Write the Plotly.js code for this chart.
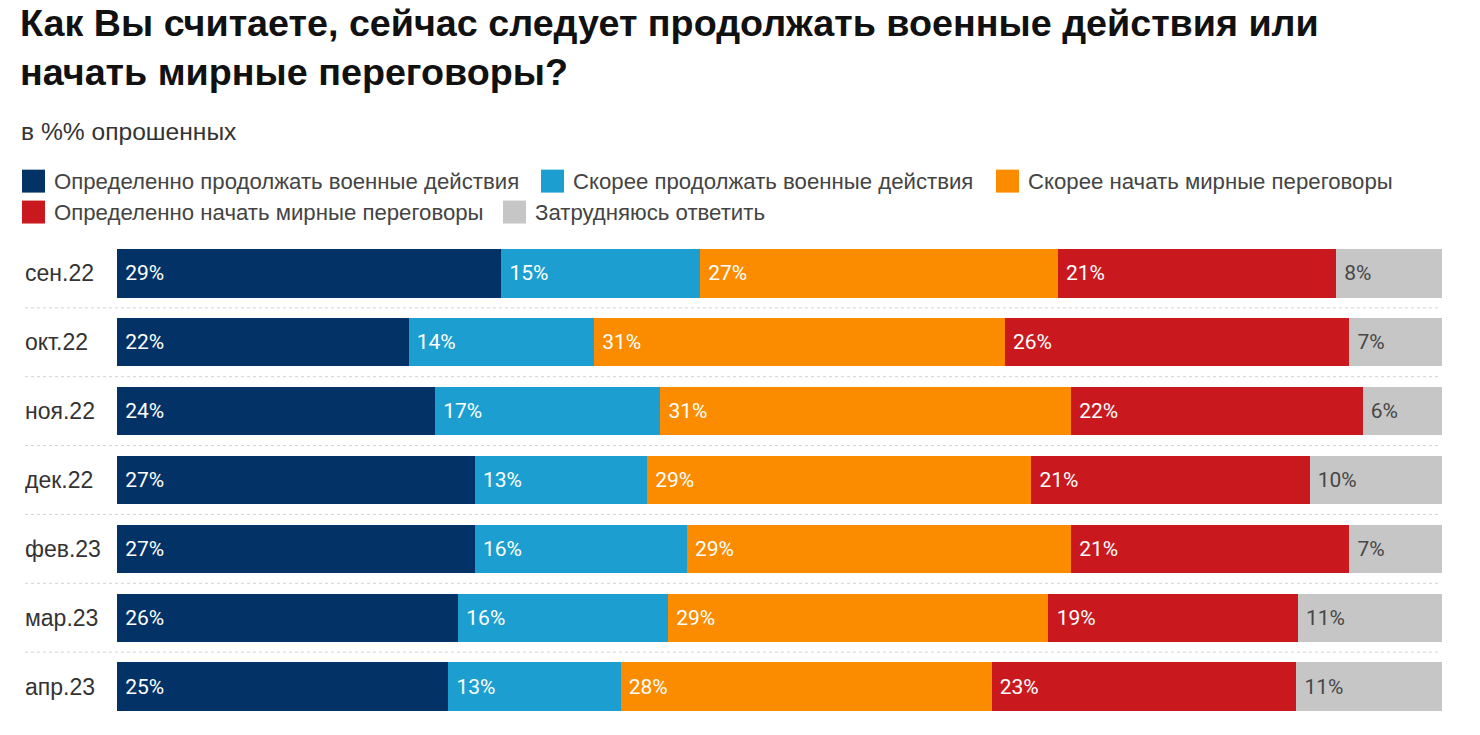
<!DOCTYPE html>
<html>
<head>
<meta charset="utf-8">
<script src="https://cdn.plot.ly/plotly-3.0.1.min.js"></script>
<style>
  body { margin: 0; background: #fff; }
  #chart { width: 1480px; height: 735px; }
</style>
</head>
<body>
<div id="chart"></div>
<script>
// опрос: продолжать военные действия или переговоры, в %% опрошенных
var months = ['сен.22', 'окт.22', 'ноя.22', 'дек.22', 'фев.23', 'мар.23', 'апр.23'];
var seriesNames = [
  'Определенно продолжать военные действия',
  'Скорее продолжать военные действия',
  'Скорее начать мирные переговоры',
  'Определенно начать мирные переговоры',
  'Затрудняюсь ответить'
];
var defContinue = [29, 22, 24, 27, 27, 26, 25];
var ratherContinue = [15, 14, 17, 13, 16, 16, 13];
var ratherTalks = [27, 31, 31, 29, 29, 29, 28];
var defTalks = [21, 26, 22, 21, 21, 19, 23];
var hardToSay = [8, 7, 6, 10, 7, 11, 11];

var seriesValues = [defContinue, ratherContinue, ratherTalks, defTalks, hardToSay];
var colors = ['#033366', '#1c9fd0', '#fb8c00', '#c9191f', '#c6c6c6'];
var textColors = ['#ffffff', '#ffffff', '#ffffff', '#ffffff', '#474747'];

// plot area in pixels
var W = 1480, H = 735;
var L = 117, R = 1442, T = 238.5, B = 721.5;
function px2x(px) { return (px - L) / (R - L); }
function px2y(py) { return 1 - (py - T) / (B - T); }

var data = seriesValues.map(function (vals, k) {
  return {
    type: 'bar',
    orientation: 'h',
    name: seriesNames[k],
    y: months,
    x: vals,
    text: vals.map(function (v) { return '\u00a0' + v + '%'; }),
    textposition: 'inside',
    insidetextanchor: 'start',
    textangle: 0,
    textfont: { family: 'Roboto', size: 21, color: textColors[k] },
    marker: { color: colors[k], line: { width: 0 } },
    hoverinfo: 'skip'
  };
});

var shapes = [];
var annotations = [];

// dotted separators between rows
for (var i = 0; i < months.length - 1; i++) {
  shapes.push({
    type: 'line', xref: 'paper', yref: 'y',
    x0: px2x(25), x1: px2x(1440), y0: i + 0.5, y1: i + 0.5,
    line: { color: '#d2d2d2', width: 1, dash: 'dot' }, layer: 'below'
  });
}

// row labels, left aligned
months.forEach(function (m) {
  annotations.push({
    xref: 'paper', yref: 'y', x: px2x(23), y: m,
    xanchor: 'left', yanchor: 'middle', showarrow: false,
    text: m, font: { family: 'Liberation Sans', size: 23, color: '#333333' }
  });
});

// legend drawn by hand: two rows
var legendX = [22, 541, 996, 22, 503];
var legendRow = [180.5, 180.5, 180.5, 211.5, 211.5];
seriesNames.forEach(function (name, k) {
  shapes.push({
    type: 'rect', xref: 'paper', yref: 'paper',
    x0: px2x(legendX[k]), x1: px2x(legendX[k] + 23),
    y0: px2y(legendRow[k] - 11.5), y1: px2y(legendRow[k] + 11.5),
    fillcolor: colors[k], line: { width: 0 }
  });
  annotations.push({
    xref: 'paper', yref: 'paper', x: px2x(legendX[k] + 30), y: px2y(legendRow[k]),
    xanchor: 'left', yanchor: 'middle', showarrow: false,
    text: name, font: { family: 'Liberation Sans', size: 22.2, color: '#444444' }
  });
});

// subtitle
annotations.push({
  xref: 'paper', yref: 'paper', x: px2x(19), y: px2y(131),
  xanchor: 'left', yanchor: 'middle', showarrow: false,
  text: 'в %% опрошенных', font: { family: 'Liberation Sans', size: 24.6, color: '#333333' }
});

var layout = {
  width: W, height: H,
  margin: { l: L, r: W - R, t: T, b: H - B, pad: 0 },
  paper_bgcolor: '#ffffff', plot_bgcolor: '#ffffff',
  title: {
    text: 'Как Вы считаете, сейчас следует продолжать военные действия или<br>начать мирные переговоры?',
    x: 20 / W, xref: 'container', xanchor: 'left',
    y: 1 - 36 / H, yref: 'container', yanchor: 'top',
    font: { family: 'Liberation Sans', size: 37.7, color: '#111111', weight: 'bold' }
  },
  barmode: 'stack',
  barnorm: 'percent',
  bargap: 0.3,
  showlegend: false,
  xaxis: { range: [0, 100], visible: false, fixedrange: true },
  yaxis: { autorange: 'reversed', showticklabels: false, showgrid: false, zeroline: false, showline: false, ticks: '', fixedrange: true },
  shapes: shapes,
  annotations: annotations,
  font: { family: 'Liberation Sans' }
};

Plotly.newPlot('chart', data, layout, { displayModeBar: false, staticPlot: true });
</script>
</body>
</html>
